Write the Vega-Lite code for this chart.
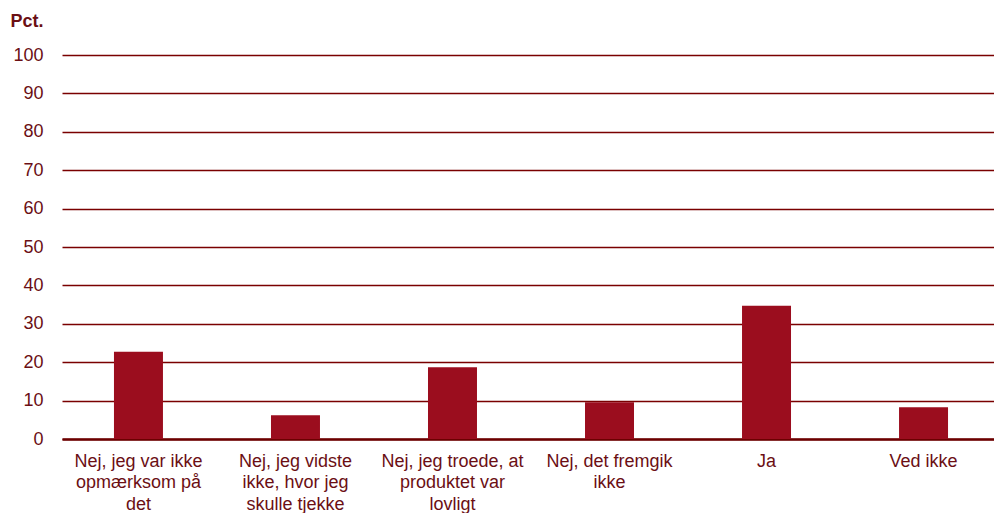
{
  "$schema": "https://vega.github.io/schema/vega-lite/v6.json",
  "autosize": "none",
  "width": 938,
  "height": 384,
  "padding": {"left": 62, "top": 55, "right": 0, "bottom": 74},
  "background": "white",
  "data": {
    "values": [
      {"kategori": "Nej, jeg var ikke|opmærksom på|det", "pct": 22.7},
      {"kategori": "Nej, jeg vidste|ikke, hvor jeg|skulle tjekke", "pct": 6.2},
      {"kategori": "Nej, jeg troede, at|produktet var|lovligt", "pct": 18.7},
      {"kategori": "Nej, det fremgik|ikke", "pct": 9.6},
      {"kategori": "Ja", "pct": 34.7},
      {"kategori": "Ved ikke", "pct": 8.3}
    ]
  },
  "config": {
    "view": {"stroke": null},
    "font": "Liberation Sans"
  },
  "mark": {"type": "bar", "color": "#9B0D1E"},
  "encoding": {
    "x": {
      "field": "kategori",
      "type": "nominal",
      "sort": null,
      "scale": {"paddingInner": 0.688, "paddingOuter": 0.331},
      "axis": {
        "title": null,
        "labelAngle": 0,
        "labelExpr": "split(datum.label, '|')",
        "labelFont": "Liberation Sans",
        "labelFontSize": 18,
        "labelColor": "#6B0F14",
        "labelLineHeight": 21.5,
        "labelBaseline": "top",
        "labelPadding": 13,
        "labelLimit": 220,
        "ticks": false,
        "domainColor": "#6B0000",
        "domainWidth": 2.5
      }
    },
    "y": {
      "field": "pct",
      "type": "quantitative",
      "scale": {"domain": [0, 100]},
      "axis": {
        "values": [0, 10, 20, 30, 40, 50, 60, 70, 80, 90, 100],
        "domain": false,
        "ticks": false,
        "grid": true,
        "gridColor": "#7A0000",
        "gridWidth": 1.6,
        "gridOpacity": 1,
        "labelFont": "Liberation Sans",
        "labelFontSize": 18,
        "labelColor": "#6B0F14",
        "labelPadding": 19,
        "title": "Pct.",
        "titleAngle": 0,
        "titleAlign": "left",
        "titleBaseline": "alphabetic",
        "titleX": -52,
        "titleY": -29,
        "titleFont": "Liberation Sans",
        "titleFontSize": 18,
        "titleFontWeight": "bold",
        "titleColor": "#6B0F14"
      }
    }
  }
}
